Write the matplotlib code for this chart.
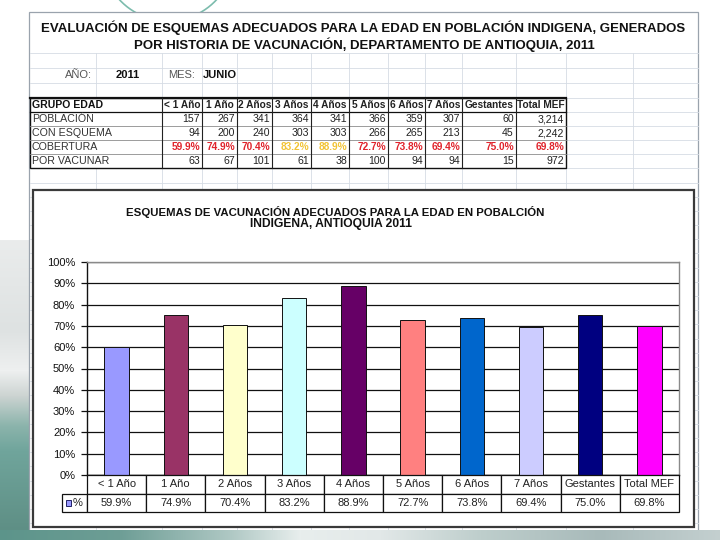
import numpy as np
import matplotlib
matplotlib.use("Agg")
import matplotlib.pyplot as plt
from matplotlib.patches import Rectangle
from matplotlib import font_manager

plt.rcParams['font.family'] = ['Liberation Sans', 'DejaVu Sans']
_names = {f.name for f in font_manager.fontManager.ttflist}
NARROW = (['Liberation Sans Narrow', 'Liberation Sans', 'DejaVu Sans']
          if 'Liberation Sans Narrow' in _names
          else ['Liberation Sans', 'DejaVu Sans'])
HAS_NARROW = 'Liberation Sans Narrow' in _names

# ---------------- data ----------------
groups = ["< 1 Año", "1 Año", "2 Años", "3 Años", "4 Años", "5 Años",
          "6 Años", "7 Años", "Gestantes", "Total MEF"]
poblacion = [157, 267, 341, 364, 341, 366, 359, 307, 60, 3214]
con_esquema = [94, 200, 240, 303, 303, 266, 265, 213, 45, 2242]
cobertura = [59.9, 74.9, 70.4, 83.2, 88.9, 72.7, 73.8, 69.4, 75.0, 69.8]
por_vacunar = [63, 67, 101, 61, 38, 100, 94, 94, 15, 972]
row_labels = ["POBLACIÓN", "CON ESQUEMA", "COBERTURA", "POR VACUNAR"]
year_label = "2011"
month_label = "JUNIO"
ytick_vals = [0.0, 0.1, 0.2, 0.3, 0.4, 0.5, 0.6, 0.7, 0.8, 0.9, 1.0]
ytick_labels = ["0%", "10%", "20%", "30%", "40%", "50%", "60%", "70%",
                "80%", "90%", "100%"]
bar_colors = ['#9999FF', '#993366', '#FFFFCC', '#CCFFFF', '#660066',
              '#FF8080', '#0066CC', '#CCCCFF', '#000080', '#FF00FF']

W, H = 720, 540
fig = plt.figure(figsize=(7.2, 5.4), dpi=100)
fig.patch.set_facecolor('white')
renderer = fig.canvas.get_renderer()

bg = fig.add_axes([0, 0, 1, 1])
bg.set_xlim(0, W)
bg.set_ylim(H, 0)
bg.axis('off')


def fit_text(axx, x, y, s, width_px, **kw):
    t = axx.text(x, y, s, fontsize=10, **kw)
    w = t.get_window_extent(renderer=renderer).width
    t.set_fontsize(10 * width_px / w)
    return t


# ---------------- background decoration ----------------
ys = np.arange(240, 540)
stops_y = [240, 330, 370, 395, 425, 450, 540]
stops_c = [(234, 236, 236), (222, 226, 226), (238, 240, 240), (205, 212, 210),
           (140, 180, 172), (112, 165, 156), (92, 140, 130)]
img = np.zeros((len(ys), 29, 3))
for ch in range(3):
    col = np.interp(ys, stops_y, [c[ch] for c in stops_c])
    img[:, :, ch] = col[:, None] / 255.0
bg.imshow(img, extent=[0, 29, 540, 240], aspect='auto',
          interpolation='bilinear', zorder=0)

t = np.radians(np.linspace(30, 150, 200))
bg.plot(168 + 66 * np.cos(t), -45 + 66 * np.sin(t), color='#7cbcad',
        lw=1.2, zorder=0.5)

bg.add_patch(Rectangle((29, 12), 669, 540, facecolor='white',
                       edgecolor='#9aa3ad', lw=0.9, zorder=1))

grid_c = '#d6dce4'
hl = [53, 68, 83, 98, 112, 126, 140, 154, 168]
yy = 182.5
while yy < 540:
    hl.append(yy)
    yy += 14.2
for y in hl:
    bg.plot([29.5, 697.5], [y, y], color=grid_c, lw=0.6, zorder=1.2)
vl = [96, 162, 202, 237, 272, 311, 349, 388, 425, 462, 516, 566, 633]
for x in vl:
    bg.plot([x, x], [53, 540], color=grid_c, lw=0.6, zorder=1.2)

xs = np.arange(0, 720)
sx = [0, 120, 230, 300, 380, 480, 600, 720]
sc = [(92, 148, 138), (110, 158, 150), (175, 200, 196), (232, 238, 237),
      (226, 232, 232), (190, 206, 204), (168, 186, 186), (196, 208, 208)]
strip = np.zeros((10, 720, 3))
for ch in range(3):
    strip[:, :, ch] = np.interp(xs, sx, [c[ch] for c in sc])[None, :] / 255.0
bg.imshow(strip, extent=[0, 720, 540, 530], aspect='auto',
          interpolation='bilinear', zorder=5)
bg.set_xlim(0, W)
bg.set_ylim(H, 0)

# ---------------- sheet titles ----------------
fit_text(bg, 363, 28, "EVALUACIÓN DE ESQUEMAS ADECUADOS PARA LA EDAD EN "
         "POBLACIÓN INDIGENA, GENERADOS", 646, ha='center', va='center',
         fontweight='bold', color='#111111', zorder=3, family=NARROW)
fit_text(bg, 364.5, 45, "POR HISTORIA DE VACUNACIÓN, DEPARTAMENTO DE "
         "ANTIOQUIA, 2011", 463, ha='center', va='center',
         fontweight='bold', color='#111111', zorder=3, family=NARROW)

sfs = 8.6 if HAS_NARROW else 8
bg.text(92, 75, "AÑO:", ha='right', va='center', fontsize=sfs,
        color='#555555', zorder=3, family=NARROW)
bg.text(116, 75, year_label, ha='left', va='center', fontsize=sfs,
        fontweight='bold', color='#111111', zorder=3, family=NARROW)
bg.text(168, 75, "MES:", ha='left', va='center', fontsize=sfs,
        color='#555555', zorder=3, family=NARROW)
bg.text(203, 75, month_label, ha='left', va='center', fontsize=sfs,
        fontweight='bold', color='#111111', zorder=3, family=NARROW)

# ---------------- sheet table ----------------
col_edges = [30, 162, 202, 237, 272, 311, 349, 388, 425, 462, 516, 566]
row_edges = [98, 112, 126, 140, 154, 168]
bg.add_patch(Rectangle((col_edges[0], row_edges[0]),
                       col_edges[-1] - col_edges[0],
                       row_edges[-1] - row_edges[0], facecolor='white',
                       edgecolor='#111111', lw=1.0, zorder=2))
bg.plot([col_edges[0], col_edges[-1]], [row_edges[0], row_edges[0]],
        color='#111111', lw=1.6, zorder=3)
bg.plot([col_edges[0], col_edges[-1]], [row_edges[1], row_edges[1]],
        color='#111111', lw=0.9, zorder=3)
for y in row_edges[2:-1]:
    bg.plot([col_edges[0], col_edges[-1]], [y, y], color='#8c8c8c',
            lw=0.6, zorder=2.5)
for x in col_edges[1:-1]:
    bg.plot([x, x], [row_edges[0], row_edges[-1]], color='#222222',
            lw=0.8, zorder=3)

fs = 8.0 if HAS_NARROW else 7.3
hy = (row_edges[0] + row_edges[1]) / 2
bg.text(col_edges[0] + 2, hy, "GRUPO EDAD", ha='left', va='center',
        fontsize=fs + 0.3, fontweight='bold', color='#111111', zorder=4,
        family=NARROW)
for i, g in enumerate(groups):
    cx = (col_edges[i + 1] + col_edges[i + 2]) / 2
    bg.text(cx, hy, g, ha='center', va='center', fontsize=fs,
            fontweight='bold', color='#222222', zorder=4, family=NARROW)

rows_vals = [[f"{v:,}" for v in poblacion],
             [f"{v:,}" for v in con_esquema],
             [f"{v:.1f}%" for v in cobertura],
             [f"{v:,}" for v in por_vacunar]]
for r, (lab, vals) in enumerate(zip(row_labels, rows_vals)):
    cy = (row_edges[r + 1] + row_edges[r + 2]) / 2
    bg.text(col_edges[0] + 2, cy, lab, ha='left', va='center',
            fontsize=fs + 0.4, color='#333333', zorder=4, family=NARROW)
    for i, s in enumerate(vals):
        xr = col_edges[i + 2] - 2
        if lab == "COBERTURA":
            c = '#F2C335' if cobertura[i] >= 80 else '#E0242C'
            bg.text(xr, cy, s, ha='right', va='center', fontsize=fs,
                    fontweight='bold', color=c, zorder=4, family=NARROW)
        else:
            bg.text(xr, cy, s, ha='right', va='center', fontsize=fs + 0.3,
                    color='#222222', zorder=4, family=NARROW)

# ---------------- chart box ----------------
bg.add_patch(Rectangle((33, 190), 661, 337, facecolor='white',
                       edgecolor='#3a3a3a', lw=1.6, zorder=6))
fit_text(bg, 335, 212, "ESQUEMAS DE VACUNACIÓN ADECUADOS PARA LA EDAD EN "
         "POBALCIÓN", 416, ha='center', va='center', fontweight='bold',
         color='#111111', zorder=7, family=NARROW)
fit_text(bg, 331.5, 224, "INDIGENA, ANTIOQUIA 2011", 163, ha='center',
         va='center', fontweight='bold', color='#111111', zorder=7,
         family=NARROW)

# ---------------- chart axes ----------------
L, R, T, B = 87, 679, 262, 475
ax = fig.add_axes([L / W, (H - B) / H, (R - L) / W, (B - T) / H])
ax.set_facecolor('white')
x = np.arange(len(groups))
ax.bar(x, [v / 100 for v in cobertura], width=0.41, color=bar_colors,
       edgecolor='#111111', linewidth=0.7, zorder=3)
ax.set_xlim(-0.5, len(groups) - 0.5)
ax.set_ylim(0, 1)
ax.set_yticks(ytick_vals)
ax.set_yticklabels(ytick_labels)
ax.set_xticks([])
ax.yaxis.grid(True, color='#111111', lw=0.9)
ax.set_axisbelow(True)
ax.tick_params(axis='y', direction='out', length=4.5, width=0.9,
               labelsize=8, pad=4, colors='#111111')
for side in ['left', 'bottom']:
    ax.spines[side].set_color('#111111')
    ax.spines[side].set_linewidth(1.0)
for side in ['top', 'right']:
    ax.spines[side].set_color('#8a8a8a')
    ax.spines[side].set_linewidth(1.0)

# data table under the chart (bbox covers the grid of value cells)
pw = R - L
ph = B - T
lab_w = 25 / pw
tbl_h = 37 / ph
tbl = ax.table(cellText=[[f"{v:.1f}%" for v in cobertura]],
               colLabels=groups, cellLoc='center',
               colWidths=[1 / len(groups)] * len(groups),
               bbox=[0, -tbl_h, 1, tbl_h])
tbl.add_cell(1, -1, width=lab_w, height=tbl[1, 0].get_height(), text='')
tbl.auto_set_font_size(False)
tbl.set_fontsize(8)
tbl.set_zorder(5)
for cell in tbl.get_celld().values():
    cell.set_edgecolor('#111111')
    cell.set_linewidth(0.9)
    cell.get_text().set_color('#222222')

# legend key in the data table
ax.add_patch(Rectangle(((65.5 - L) / pw, (B - 506) / ph), 5 / pw, 6 / ph,
                       transform=ax.transAxes, facecolor=bar_colors[0],
                       edgecolor='#222266', lw=0.7, clip_on=False, zorder=7))
ax.text((72.5 - L) / pw, (B - 503) / ph, "%", transform=ax.transAxes,
        ha='left', va='center', fontsize=8, color='#222222',
        clip_on=False, zorder=7)

fig.savefig("out.png", dpi=100)
